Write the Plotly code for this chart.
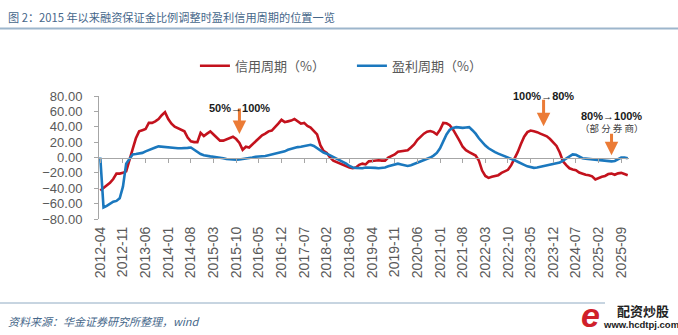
import pandas as pd
import plotly.graph_objects as go

# ---- data ----
months = [d.strftime("%Y-%m") for d in pd.date_range("2012-04-01", periods=164, freq="MS")]

credit = [-43, -40, -36, -33, -28, -21, -21, -20, -18, -2, 11, 25, 34, 35.5, 37, 45, 45, 47, 50, 55,
          59, 50, 44, 40, 38, 36, 34, 26, 21, 20, 20, 32, 28, 31, 34, 30, 26, 22, 22, 24,
          25, 27, 24, 19, 10, 14, 13, 17, 21, 24, 29, 31, 34, 35, 39, 44, 49, 46, 47, 48,
          50, 47, 44, 45, 41, 39, 35, 30, 16, 8.5, 6, 0, -4, -6, -8, -9.5, -11, -13, -14, -13,
          -9.5, -8, -9, -5, -4.5, -4, -3.5, -4, -4, 0, 1.5, 4, 7.5, 8.5, 9, 9.5, 13, 17, 23, 27,
          31, 33.5, 34.5, 33, 30, 36, 45, 44.5, 42, 36.5, 30, 22, 14, 9.5, 7, 5, 2.5, -4, -17, -24,
          -26.5, -25, -24, -23, -20, -18.5, -16, -10, -2, 7, 17.5, 27, 33, 35, 34, 33, 31, 29, 27.5, 24,
          19, 15, 6.5, -5, -10, -14, -15.5, -16.5, -19.5, -21.5, -22.5, -23, -24.5, -28.5, -26.5, -25, -24, -21.5,
          -21, -22.5, -20.6, -20, -21.5, -23]

profit = [0, -65, -63, -60, -57.5, -56.5, -53, -38, -8, -2, 4, 4.5, 5, 6, 8, 10, 11, 13, 14.5, 14,
          13.5, 13, 12.5, 12.5, 12, 12, 12, 12.5, 13, 10, 7, 4.5, 3, 2, 1.5, 1, 0.5, 0, -1, -2,
          -2.5, -3, -3, -2.5, -2, -1.5, -1, 0, 1, 1.2, 1.3, 2, 3, 4, 5, 6, 7, 8, 10, 11.5,
          13, 13.5, 14, 15, 16.3, 16.5, 15, 12, 9, 6.5, 5, 3, 1, -1, -3, -5, -8, -11, -13, -13.5,
          -14, -14, -13, -13, -13, -13.5, -14, -13.5, -13, -11.5, -10.5, -9.5, -8, -9, -10, -11, -10, -8.5, -7, -5,
          -3.5, -2.5, 0, 2.5, 6, 12, 21, 30, 36, 38.5, 39.5, 39, 38.5, 39, 39.5, 35.5, 31, 25, 20, 15.5,
          12, 9, 7, 5, 3.5, 2, 0.5, -1.5, -3.5, -5.5, -8, -9.5, -11.5, -12.5, -13.5, -13, -12, -11, -10.5, -9.5,
          -8, -7.5, -6.5, -4, -1, 2, 4, 3.5, 1, -1, -1.5, -2, -2, -2.5, -3, -3.5, -4, -4.5,
          -5, -4.5, -2, 0, 0, -1]

series_names = ["信用周期（%）", "盈利周期（%）"]
tick_labels = months[::7]

# annotation data: month, arrow-tip value, label value, label text
note_months = ["2015-11", "2023-09", "2025-06"]
note_tips = [30.5, 40.5, 3]
note_label_vals = [74.5, 90, 64.5]
note_texts = ["50%→100%", "100%→80%", "80%→100%"]
note_arrow_len = [27, 28, 23]

RED = "#C3121D"
BLUE = "#1B78BE"
ORANGE = "#EB7B36"
AXIS = "#A6A6A6"
TXT = "#595959"
YMIN, YMAX = -80, 80

fig = go.Figure()
fig.add_trace(go.Scatter(x=months, y=credit, name=series_names[0], mode="lines",
                         line=dict(color=RED, width=2.6)))
fig.add_trace(go.Scatter(x=months, y=profit, name=series_names[1], mode="lines",
                         line=dict(color=BLUE, width=2.6)))
# invisible helper trace for the zero-line axis with tick marks
fig.add_trace(go.Scatter(x=months, y=[None] * len(months), xaxis="x2", showlegend=False,
                         hoverinfo="skip", mode="lines"))

fig.update_layout(
    width=678, height=335,
    margin=dict(l=99, r=49, t=96, b=116),
    paper_bgcolor="white", plot_bgcolor="white",
    showlegend=True,
    legend=dict(orientation="h", x=0.181, xanchor="left", y=1.245, yanchor="middle",
                font=dict(family="Noto Sans CJK SC", size=13, color=TXT),
                itemwidth=30, entrywidth=112, bgcolor="rgba(0,0,0,0)"),
    xaxis=dict(type="category", range=[-0.4, 163.4], tickmode="array", tickvals=tick_labels,
               ticktext=tick_labels, tickangle=-90, showline=False, showgrid=False, ticks="",
               zeroline=False, ticklabelstandoff=4,
               tickfont=dict(family="Liberation Sans", size=14, color=TXT)),
    xaxis2=dict(type="category", overlaying="x", matches="x", anchor="free", position=0.5,
                side="bottom", showline=True, linecolor=AXIS, linewidth=1, ticks="outside",
                ticklen=4, tickcolor=AXIS, tickmode="array", tickvals=tick_labels,
                showticklabels=False, showgrid=False, zeroline=False),
    yaxis=dict(range=[YMIN, YMAX], dtick=20, tick0=0, tickformat=".2f", showgrid=False,
               zeroline=False, showline=True, linecolor=AXIS, linewidth=1, ticks="outside",
               ticklen=4, tickcolor=AXIS, ticklabelstandoff=9,
               tickfont=dict(family="Liberation Sans", size=13, color=TXT)),
)


def val2paper(v):
    return (v - YMIN) / float(YMAX - YMIN)


for m, tip, lab, text, alen in zip(note_months, note_tips, note_label_vals, note_texts, note_arrow_len):
    fig.add_annotation(x=m, y=tip, xref="x", yref="y", text="", showarrow=True,
                       ax=0, ay=-alen, arrowhead=2, arrowsize=0.9, arrowwidth=3,
                       arrowcolor=ORANGE, standoff=0)
    fig.add_annotation(x=m, y=val2paper(lab), xref="x", yref="paper", text="<b>%s</b>" % text,
                       showarrow=False,
                       font=dict(family="Liberation Sans", size=11, color="#1a1a1a"))
fig.add_annotation(x=note_months[2], y=val2paper(50), xref="x", yref="paper", text="（部 分 券 商）",
                   showarrow=False,
                   font=dict(family="Noto Sans CJK SC", size=9.5, color="#404040"))


def px2paper_x(v):
    return (v - 99) / 530.0


def px2paper_y(v):
    return (219 - v) / 123.0


# header / footer (placed in pixels, converted to paper coords)
extras = [(6, 17, "图 2：2015 年以来融资保证金比例调整时盈利信用周期的位置一览", "left",
           dict(family="Noto Sans CJK SC", size=11.2, color="#46678A")),
          (6, 321, "<i>资料来源：华金证券研究所整理，wind</i>", "left",
           dict(family="Noto Sans CJK SC", size=11, color="#46678A")),
          (643, 310, "<b>配资炒股</b>", "center",
           dict(family="Noto Sans CJK SC", size=13, color="#222222")),
          (641, 324, "<b>www.hcdtpj.com</b>", "center",
           dict(family="Liberation Sans", size=9.5, color="#222222")),
          (590, 315, "<b><i>e</i></b>", "center",
           dict(family="Liberation Sans", size=34, color="#D0202A"))]
for px, py, text, anchor, font in extras:
    fig.add_annotation(x=px2paper_x(px), y=px2paper_y(py), xref="paper", yref="paper", text=text,
                       showarrow=False, xanchor=anchor, yanchor="middle", font=font)

fig.add_shape(type="line", xref="paper", yref="paper", x0=px2paper_x(0), x1=px2paper_x(678),
              y0=px2paper_y(28.5), y1=px2paper_y(28.5), line=dict(color="#9DB6CC", width=2))
fig.add_shape(type="line", xref="paper", yref="paper", x0=px2paper_x(0), x1=px2paper_x(605),
              y0=px2paper_y(303), y1=px2paper_y(303), line=dict(color="#8FAAC2", width=1))

fig.write_html("out.html")
